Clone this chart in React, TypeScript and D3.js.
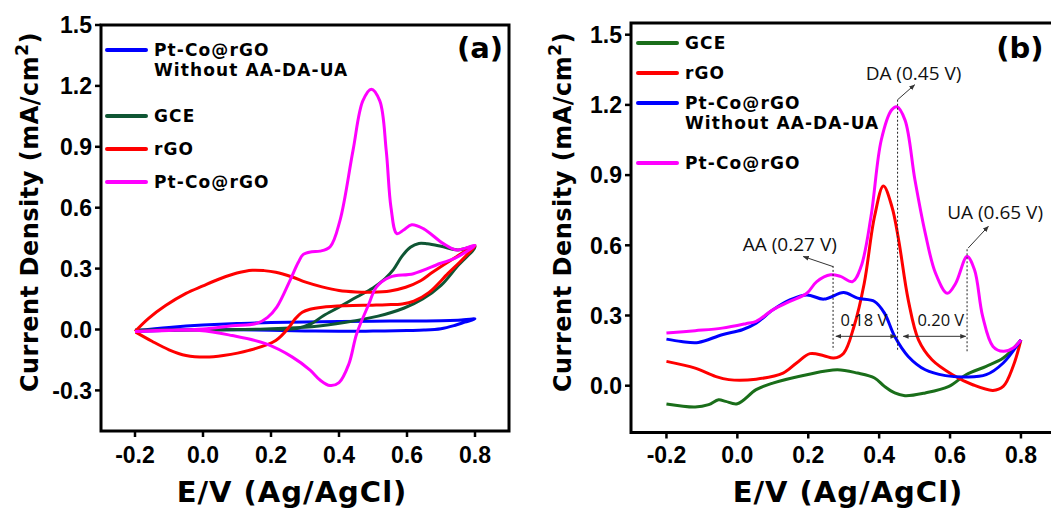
import React from 'react';
import * as d3 from 'd3';

type Pt = [number, number];

// ---- panel (a): cyclic voltammograms, forward sweep then reverse sweep ----
const cvBlue: Pt[] = [
  [-0.2, -0.006], [-0.1, 0.01], [0.0, 0.022], [0.1, 0.03], [0.2, 0.034], [0.3, 0.037],
  [0.4, 0.04], [0.5, 0.041], [0.6, 0.042], [0.7, 0.043], [0.75, 0.046], [0.8, 0.052],
  [0.77, 0.036], [0.74, 0.02], [0.7, 0.004], [0.65, -0.003], [0.6, -0.005], [0.5, -0.008],
  [0.4, -0.009], [0.3, -0.007], [0.2, -0.004], [0.1, -0.001], [0.0, 0.0], [-0.1, -0.004], [-0.2, -0.01],
];

const cvGreen: Pt[] = [
  [-0.2, -0.003], [0.0, -0.002], [0.1, 0.0], [0.2, 0.002], [0.276, 0.005], [0.32, 0.03],
  [0.354, 0.068], [0.4, 0.11], [0.452, 0.16], [0.5, 0.205], [0.535, 0.25], [0.56, 0.295],
  [0.585, 0.36], [0.61, 0.405], [0.635, 0.424], [0.66, 0.422], [0.7, 0.41], [0.75, 0.392], [0.8, 0.408],
  [0.75, 0.315], [0.7, 0.217], [0.646, 0.15], [0.592, 0.106], [0.515, 0.066], [0.42, 0.036],
  [0.32, 0.014], [0.185, 0.003], [0.0, -0.003], [-0.2, -0.003],
];

const cvRed: Pt[] = [
  [-0.2, -0.01], [-0.16, 0.055], [-0.11, 0.118], [-0.05, 0.178], [0.0, 0.215], [0.05, 0.25],
  [0.1, 0.278], [0.145, 0.292], [0.18, 0.29], [0.214, 0.282], [0.26, 0.26], [0.302, 0.233],
  [0.35, 0.21], [0.4, 0.192], [0.45, 0.185], [0.498, 0.184], [0.55, 0.19], [0.596, 0.208],
  [0.64, 0.24], [0.675, 0.282], [0.743, 0.356], [0.8, 0.413],
  [0.76, 0.34], [0.72, 0.275], [0.665, 0.183], [0.62, 0.14], [0.586, 0.126], [0.54, 0.122],
  [0.498, 0.12], [0.42, 0.117], [0.351, 0.11], [0.315, 0.1], [0.292, 0.085], [0.27, 0.05],
  [0.253, 0.011], [0.214, -0.054], [0.135, -0.103], [0.06, -0.128], [0.008, -0.136],
  [-0.05, -0.128], [-0.1, -0.1], [-0.15, -0.058], [-0.198, -0.013],
];

const cvMagenta: Pt[] = [
  [-0.2, -0.01], [-0.1, -0.005], [0.0, 0.003], [0.086, 0.018], [0.158, 0.03], [0.19, 0.06],
  [0.217, 0.11], [0.256, 0.242], [0.28, 0.33], [0.295, 0.37], [0.32, 0.383], [0.344, 0.386],
  [0.374, 0.408], [0.403, 0.538], [0.441, 0.88], [0.47, 1.126], [0.495, 1.184], [0.52, 1.126],
  [0.539, 0.88], [0.553, 0.6], [0.57, 0.472], [0.59, 0.49], [0.614, 0.516], [0.648, 0.497],
  [0.707, 0.423], [0.746, 0.392], [0.8, 0.415],
  [0.74, 0.35], [0.697, 0.325], [0.619, 0.275], [0.55, 0.258], [0.51, 0.209], [0.488, 0.126],
  [0.452, -0.021], [0.429, -0.17], [0.4, -0.262], [0.3735, -0.276], [0.345, -0.25],
  [0.315, -0.2], [0.263, -0.136], [0.184, -0.07], [0.086, -0.03], [-0.01, -0.005], [-0.2, -0.01],
];

// ---- panel (b): differential pulse voltammograms ----
const dpvGreen: Pt[] = [
  [-0.2, -0.078], [-0.119, -0.091], [-0.081, -0.081], [-0.053, -0.06], [-0.033, -0.067],
  [0.0, -0.077], [0.053, -0.017], [0.1, 0.011], [0.196, 0.047], [0.282, 0.068], [0.339, 0.054],
  [0.387, 0.033], [0.415, -0.003], [0.444, -0.031], [0.473, -0.043], [0.53, -0.031],
  [0.597, -0.003], [0.645, 0.047], [0.702, 0.083], [0.75, 0.118], [0.8, 0.196],
];

const dpvRed: Pt[] = [
  [-0.2, 0.104], [-0.119, 0.075], [-0.062, 0.04], [-0.024, 0.026], [0.053, 0.028], [0.129, 0.054],
  [0.167, 0.097], [0.205, 0.137], [0.244, 0.128], [0.272, 0.118], [0.3, 0.139], [0.329, 0.253],
  [0.358, 0.438], [0.387, 0.723], [0.412, 0.853], [0.436, 0.765], [0.455, 0.623], [0.482, 0.367],
  [0.511, 0.196], [0.549, 0.111], [0.607, 0.047], [0.664, 0.004], [0.721, -0.02], [0.75, -0.003],
  [0.778, 0.083], [0.8, 0.196],
];

const dpvBlue: Pt[] = [
  [-0.2, 0.199], [-0.158, 0.189], [-0.11, 0.185], [-0.043, 0.218], [0.014, 0.239], [0.053, 0.267],
  [0.1, 0.324], [0.148, 0.367], [0.196, 0.388], [0.244, 0.37], [0.3, 0.398], [0.339, 0.374],
  [0.387, 0.36], [0.415, 0.31], [0.444, 0.21], [0.482, 0.125], [0.53, 0.068], [0.587, 0.043],
  [0.645, 0.037], [0.702, 0.047], [0.75, 0.097], [0.8, 0.196],
];

const dpvMagenta: Pt[] = [
  [-0.2, 0.225], [-0.119, 0.235], [-0.043, 0.246], [0.024, 0.265], [0.053, 0.275], [0.1, 0.324],
  [0.148, 0.36], [0.196, 0.395], [0.224, 0.445], [0.263, 0.474], [0.291, 0.467], [0.325, 0.445],
  [0.349, 0.509], [0.377, 0.723], [0.406, 1.05], [0.435, 1.178], [0.45, 1.192], [0.473, 1.135],
  [0.501, 0.879], [0.53, 0.652], [0.559, 0.481], [0.592, 0.395], [0.616, 0.438], [0.648, 0.552],
  [0.669, 0.495], [0.692, 0.296], [0.721, 0.168], [0.75, 0.147], [0.778, 0.161], [0.8, 0.196],
];

const xTicks = [-0.2, 0.0, 0.2, 0.4, 0.6, 0.8];
const yTicksA = [-0.3, 0.0, 0.3, 0.6, 0.9, 1.2, 1.5];
const yTicksB = [0.0, 0.3, 0.6, 0.9, 1.2, 1.5];

const legendA = [
  { lines: ['Pt-Co@rGO', 'Without AA-DA-UA'], color: '#0000ff', data: cvBlue },
  { lines: ['GCE'], color: '#0f5634', data: cvGreen },
  { lines: ['rGO'], color: '#ff0000', data: cvRed },
  { lines: ['Pt-Co@rGO'], color: '#ff00ff', data: cvMagenta },
];

const legendB = [
  { lines: ['GCE'], color: '#1a6e1a', data: dpvGreen },
  { lines: ['rGO'], color: '#ff0000', data: dpvRed },
  { lines: ['Pt-Co@rGO', 'Without AA-DA-UA'], color: '#0000ff', data: dpvBlue },
  { lines: ['Pt-Co@rGO'], color: '#ff00ff', data: dpvMagenta },
];

// peak markers in (b)
const peakLines = [
  { e: 0.27, top: 0.512, bottom: 0.152 },
  { e: 0.452, top: 1.222, bottom: 0.147 },
  { e: 0.648, top: 0.583, bottom: 0.147 },
];
const peakLabels = [
  { text: 'AA (0.27 V)', e: 0.148, j: 0.574, from: [0.27, 0.509] as Pt, to: [0.186, 0.552] as Pt },
  { text: 'DA (0.45 V)', e: 0.497, j: 1.305, from: [0.452, 1.222] as Pt, to: [0.5, 1.286] as Pt },
  { text: 'UA (0.65 V)', e: 0.727, j: 0.712, from: [0.651, 0.588] as Pt, to: [0.708, 0.681] as Pt },
];
const separations = [
  { from: 0.278, to: 0.447, j: 0.211, text: '0.18 V', e: 0.357, tj: 0.253 },
  { from: 0.468, to: 0.644, j: 0.211, text: '0.20 V', e: 0.574, tj: 0.253 },
];

const BOLD = "'DejaVu Sans', Verdana, sans-serif";
const TICK = "'Liberation Sans', Arial, sans-serif";

type Entry = { lines: string[]; color: string; data: Pt[] };

function Panel(props: {
  xs: d3.ScaleLinear<number, number>;
  ys: d3.ScaleLinear<number, number>;
  yTicks: number[];
  entries: Entry[];
  legendX: number;
  legendY: number;
  rowGap: number;
  extraGap: number;
  tag: string;
  tagX: number;
  yTitleX: number;
  xTitleX: number;
}) {
  const { xs, ys, yTicks, entries } = props;
  const [x0, x1] = xs.range();
  const [y0, y1] = ys.range();
  const line = d3
    .line<Pt>()
    .x((d) => xs(d[0]))
    .y((d) => ys(d[1]))
    .curve(d3.curveCatmullRom.alpha(0.5));

  const rows: { e: Entry; y: number }[] = [];
  let ly = props.legendY;
  entries.forEach((e) => {
    rows.push({ e, y: ly });
    ly += props.rowGap + (e.lines.length > 1 ? props.extraGap : 0);
  });

  return (
    <g>
      {entries.map((e, i) => (
        <path key={i} d={line(e.data) || ''} fill="none" stroke={e.color} strokeWidth={3} strokeLinejoin="round" />
      ))}
      <rect x={x0} y={y1} width={x1 - x0} height={y0 - y1} fill="none" stroke="#000" strokeWidth={3} />
      {xTicks.map((t) => (
        <g key={t}>
          <line x1={xs(t)} x2={xs(t)} y1={y0} y2={y0 + 6} stroke="#000" strokeWidth={2.5} />
          <text x={xs(t)} y={463} textAnchor="middle" fontFamily={TICK} fontWeight="bold" fontSize={23}>
            {t.toFixed(1)}
          </text>
        </g>
      ))}
      {yTicks.map((t) => (
        <g key={t}>
          <line x1={x0 - 6} x2={x0} y1={ys(t)} y2={ys(t)} stroke="#000" strokeWidth={2.5} />
          <text x={x0 - 9} y={ys(t)} dy="0.36em" textAnchor="end" fontFamily={TICK} fontWeight="bold" fontSize={23}>
            {t.toFixed(1)}
          </text>
        </g>
      ))}
      {rows.map(({ e, y }, i) => (
        <g key={i}>
          <line x1={props.legendX} x2={props.legendX + 39} y1={y} y2={y} stroke={e.color} strokeWidth={4} strokeLinecap="round" />
          {e.lines.map((s, k) => (
            <text
              key={k}
              x={props.legendX + 47}
              y={y + 5.5 + k * 20.5}
              fontFamily={BOLD}
              fontWeight="bold"
              fontSize={17}
              letterSpacing={1.1}
            >
              {s}
            </text>
          ))}
        </g>
      ))}
      <text x={props.tagX} y={58} textAnchor="middle" fontFamily={BOLD} fontWeight="bold" fontSize={29}>
        {props.tag}
      </text>
      <text
        transform={`translate(${props.yTitleX},212) rotate(-90)`}
        textAnchor="middle"
        fontFamily={BOLD}
        fontWeight="bold"
        fontSize={24}
        letterSpacing={0.5}
      >
        Current Density (mA/cm<tspan dy={-10} fontSize={17}>2</tspan>
        <tspan dy={10}>)</tspan>
      </text>
      <text x={props.xTitleX} y={502} textAnchor="middle" fontFamily={BOLD} fontWeight="bold" fontSize={29} letterSpacing={1}>
        E/V (Ag/AgCl)
      </text>
    </g>
  );
}

export default function App() {
  const xa = d3.scaleLinear().domain([-0.3, 0.9]).range([101, 509]);
  const ya = d3.scaleLinear().domain([-0.5, 1.5]).range([431, 25]);
  const xb = d3.scaleLinear().domain([-0.3, 0.9]).range([631, 1056.4]);
  const yb = d3.scaleLinear().domain([-0.2, 1.55]).range([432.5, 23]);
  const ANN = "'Open Sans', 'Noto Sans', sans-serif";

  return (
    <svg width={1051} height={508} style={{ position: 'absolute', left: 0, top: 0, background: '#fff' }}>
      <defs>
        <marker id="ah" viewBox="0 0 10 10" refX={9} refY={5} markerWidth={6} markerHeight={6} orient="auto-start-reverse">
          <path d="M0,1 L10,5 L0,9 z" fill="#333" />
        </marker>
      </defs>
      <rect width={1051} height={508} fill="#fff" />
      <Panel
        xs={xa}
        ys={ya}
        yTicks={yTicksA}
        entries={legendA}
        legendX={107}
        legendY={50}
        rowGap={33}
        extraGap={33}
        tag="(a)"
        tagX={480}
        yTitleX={38}
        xTitleX={292}
      />
      <Panel
        xs={xb}
        ys={yb}
        yTicks={yTicksB}
        entries={legendB}
        legendX={638}
        legendY={43}
        rowGap={30}
        extraGap={30}
        tag="(b)"
        tagX={1020}
        yTitleX={571}
        xTitleX={848}
      />
      {peakLines.map((p, i) => (
        <line key={i} x1={xb(p.e)} x2={xb(p.e)} y1={yb(p.top)} y2={yb(p.bottom)} stroke="#222" strokeWidth={1} strokeDasharray="2,2" />
      ))}
      {separations.map((s, i) => (
        <g key={i}>
          <line
            x1={xb(s.from)}
            x2={xb(s.to)}
            y1={yb(s.j)}
            y2={yb(s.j)}
            stroke="#333"
            strokeWidth={1}
            markerStart="url(#ah)"
            markerEnd="url(#ah)"
          />
          <text x={xb(s.e)} y={yb(s.tj)} textAnchor="middle" fontFamily={ANN} fontSize={16.5} fill="#111">
            {s.text}
          </text>
        </g>
      ))}
      {peakLabels.map((p, i) => (
        <g key={i}>
          <line x1={xb(p.from[0])} y1={yb(p.from[1])} x2={xb(p.to[0])} y2={yb(p.to[1])} stroke="#333" strokeWidth={1} markerEnd="url(#ah)" />
          <text x={xb(p.e)} y={yb(p.j)} textAnchor="middle" fontFamily={ANN} fontSize={19} fill="#111">
            {p.text}
          </text>
        </g>
      ))}
    </svg>
  );
}
